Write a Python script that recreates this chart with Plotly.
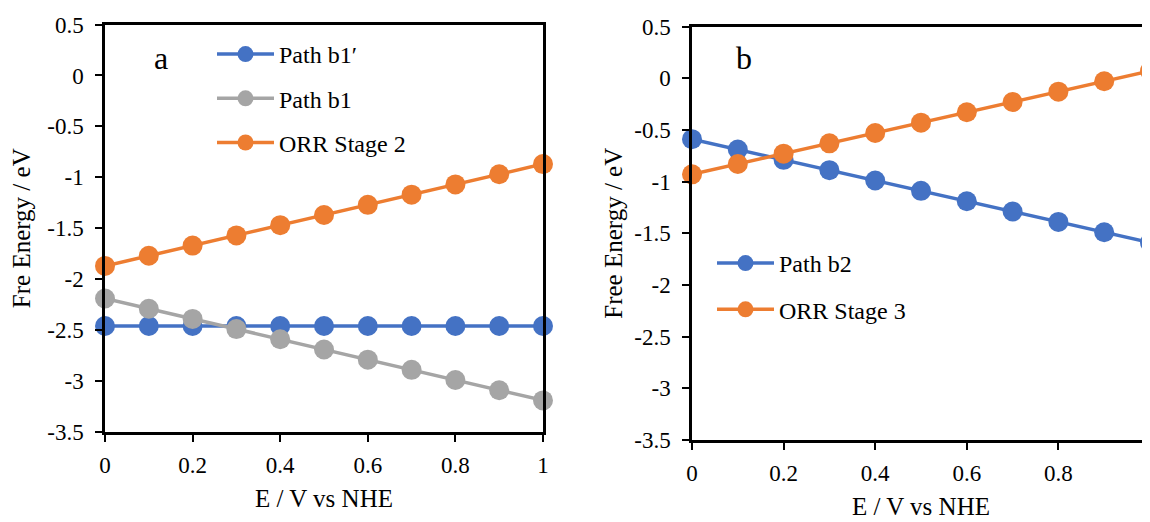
import plotly.graph_objects as go

# ---- data ----
E = [0.0, 0.1, 0.2, 0.3, 0.4, 0.5, 0.6, 0.7, 0.8, 0.9, 1.0]

path_b1p = [-2.46, -2.46, -2.46, -2.46, -2.46, -2.46, -2.46, -2.46, -2.46, -2.46, -2.46]
path_b1 = [-2.19, -2.29, -2.39, -2.49, -2.59, -2.69, -2.79, -2.89, -2.99, -3.09, -3.19]
orr_stage2 = [-1.87, -1.77, -1.67, -1.57, -1.47, -1.37, -1.27, -1.17, -1.07, -0.97, -0.87]

path_b2 = [-0.59, -0.69, -0.79, -0.89, -0.99, -1.09, -1.19, -1.29, -1.39, -1.49, -1.59]
orr_stage3 = [-0.93, -0.83, -0.73, -0.63, -0.53, -0.43, -0.33, -0.23, -0.13, -0.03, 0.07]

y_tickvals = [0.5, 0, -0.5, -1, -1.5, -2, -2.5, -3, -3.5]
y_ticktext = ["0.5", "0", "-0.5", "-1", "-1.5", "-2", "-2.5", "-3", "-3.5"]
x_tickvals = [0, 0.2, 0.4, 0.6, 0.8, 1]
x_ticktext = ["0", "0.2", "0.4", "0.6", "0.8", "1"]

BLUE = "#4472C4"
GRAY = "#A5A5A5"
ORANGE = "#ED7D31"
FONT = "Times New Roman, Liberation Serif, serif"

# the page body adds an 8px margin, so the figure is sized/positioned to compensate
OFF = 8
W, H = 1150 - OFF, 522 - OFF

fig = go.Figure()


def add(x, y, name, color, xa, ya, legend):
    fig.add_trace(go.Scatter(
        x=x, y=y, name=name, mode="lines+markers",
        line=dict(color=color, width=3.5),
        marker=dict(color=color, size=20),
        xaxis=xa, yaxis=ya, legend=legend, legendgroup=name,
        cliponaxis=False,
    ))


add(E, path_b1p, "Path b1\u2032", BLUE, "x", "y", "legend")
add(E, path_b1, "Path b1", GRAY, "x", "y", "legend")
add(E, orr_stage2, "ORR Stage 2", ORANGE, "x", "y", "legend")
add(E, path_b2, "Path b2", BLUE, "x2", "y2", "legend2")
add(E, orr_stage3, "ORR Stage 3", ORANGE, "x2", "y2", "legend2")

# pixel geometry in screenshot coordinates
L1, R1, T1, B1 = 105, 543, 24.5, 432
L2, R2, T2, B2 = 692, 1150, 26.5, 440


def px_x(p):
    return (p - OFF) / W


def px_y(p):
    return 1 - (p - OFF) / H


axis_common = dict(
    showline=True, linecolor="black", linewidth=2.5,
    showgrid=False, zeroline=False, ticks="outside", ticklen=7,
    tickcolor="black", tickwidth=1.5, automargin=False,
    tickfont=dict(family=FONT, size=23, color="black"),
)
title_font = dict(family=FONT, size=25, color="black")

fig.update_layout(
    width=W, height=H,
    margin=dict(l=0, r=0, t=0, b=0),
    paper_bgcolor="white", plot_bgcolor="white",
    font=dict(family=FONT, color="black"),
    showlegend=True,
    xaxis=dict(
        domain=[px_x(L1), px_x(R1)], range=[0, 1], anchor="y", mirror=True,
        tickvals=x_tickvals, ticktext=x_ticktext, ticklabelstandoff=4,
        title=dict(text="E / V vs NHE", font=title_font, standoff=13),
        **axis_common,
    ),
    yaxis=dict(
        domain=[px_y(B1), px_y(T1)], range=[-3.5, 0.5], anchor="x", mirror=True,
        tickvals=y_tickvals, ticktext=y_ticktext, ticklabelstandoff=7,
        title=dict(text="Fre Energy / eV", font=title_font, standoff=10),
        **axis_common,
    ),
    xaxis2=dict(
        domain=[px_x(L2), min(1.0, px_x(R2))], range=[0, 1], anchor="y2", mirror=True,
        tickvals=x_tickvals, ticktext=x_ticktext, ticklabelstandoff=4,
        title=dict(text="E / V vs NHE", font=title_font, standoff=13),
        **axis_common,
    ),
    yaxis2=dict(
        domain=[px_y(B2), px_y(T2)], range=[-3.5, 0.5], anchor="x2", mirror=False,
        tickvals=y_tickvals, ticktext=y_ticktext, ticklabelstandoff=7,
        title=dict(text="Free Energy / eV", font=title_font, standoff=5),
        **axis_common,
    ),
    legend=dict(
        x=px_x(212), y=px_y(32), xanchor="left", yanchor="top",
        bgcolor="rgba(0,0,0,0)", font=dict(family=FONT, size=24),
        tracegroupgap=10, itemwidth=57,
    ),
    legend2=dict(
        x=px_x(712), y=px_y(241), xanchor="left", yanchor="top",
        bgcolor="rgba(0,0,0,0)", font=dict(family=FONT, size=24),
        tracegroupgap=12, itemwidth=57,
    ),
    annotations=[
        dict(text="a", x=px_x(152), y=px_y(38), xref="paper", yref="paper",
             showarrow=False, font=dict(family=FONT, size=32)),
        dict(text="b", x=px_x(744), y=px_y(38), xref="paper", yref="paper",
             showarrow=False, font=dict(family=FONT, size=32)),
    ],
)

fig.write_html("out.html")
